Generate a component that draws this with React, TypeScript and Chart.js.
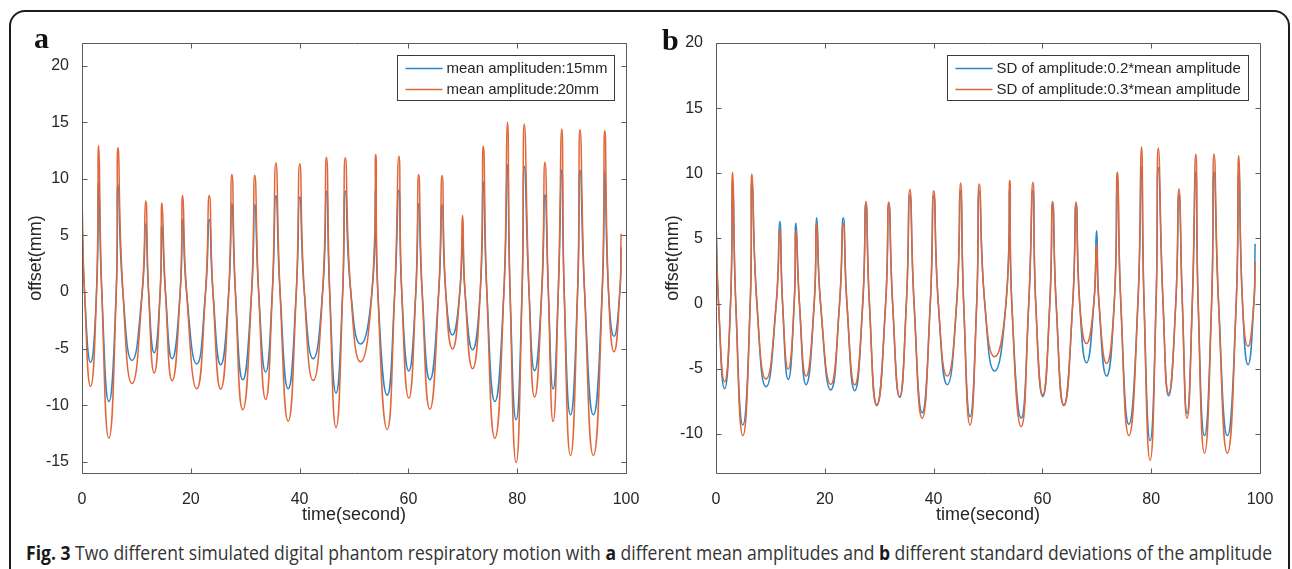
import React, { useEffect, useLayoutEffect, useRef } from "react";
import { Chart, registerables } from "chart.js";

Chart.register(...registerables);

// ---------- shared time base (seconds) ----------
const startTime = 0;
const endTime = 99.1;
const crossingLevel = 0; // value at the read zero-crossing times
const fallTimes = [0.47, 3.64, 7.52, 12.24, 15.34, 19.22, 24.07, 28.2, 32.47, 36.41, 40.87, 45.53, 49.41, 54.38, 58.78, 62.53, 66.86, 70.41, 74.42, 78.69, 82.18, 85.73, 88.64, 92.39, 96.79];
const troughTimes = [1.57, 4.94, 9.2, 13.27, 16.57, 21.1, 25.5, 29.56, 33.76, 37.9, 42.5, 46.7, 51.2, 56.1, 60.07, 63.95, 68.1, 71.8, 75.9, 79.8, 83.2, 86.6, 89.8, 94.0, 97.8];
const riseTimes = [2.67, 6.29, 11.07, 14.37, 18.05, 22.71, 26.97, 31.18, 34.99, 39.39, 44.23, 47.92, 53.3, 57.49, 61.36, 65.57, 69.45, 73.2, 77.55, 80.89, 84.51, 87.55, 91.1, 95.62, 98.86];
const peakTimes = [3.06, 6.61, 11.72, 14.69, 18.5, 23.4, 27.55, 31.76, 35.64, 40.03, 44.94, 48.4, 54.0, 58.26, 61.88, 66.2, 69.96, 73.77, 78.2, 81.3, 85.1, 88.2, 91.55, 96.1];

// ---------- panel a ----------
const aLabels = ["mean amplituden:15mm", "mean amplitude:20mm"];
const aBlueEnds = [6.3, 3.95];
const aBluePeaks = [9.7, 9.5, 6.0, 5.9, 6.4, 6.4, 7.8, 7.7, 8.5, 8.4, 8.9, 8.9, 9.1, 9.0, 7.8, 7.7, 5.1, 9.7, 11.25, 11.1, 8.6, 10.8, 10.75, 10.7];
const aBlueTroughs = [-6.22, -9.68, -6.05, -5.37, -5.9, -6.37, -6.43, -7.76, -7.08, -8.55, -5.9, -8.94, -4.6, -9.12, -6.99, -7.76, -3.8, -5.1, -9.68, -11.3, -6.96, -8.58, -10.86, -10.86, -3.92];
const aOrangeEnds = [8.4, 5.15];
const aOrangePeaks = [12.94, 12.74, 8.03, 7.85, 8.53, 8.53, 10.38, 10.32, 11.41, 11.32, 11.91, 11.85, 12.15, 12.0, 10.38, 10.29, 6.76, 12.88, 15.0, 14.85, 11.47, 14.41, 14.35, 14.26];
const aOrangeTroughs = [-8.35, -12.92, -8.08, -7.17, -7.85, -8.55, -8.58, -10.41, -9.5, -11.42, -7.82, -11.98, -6.17, -12.15, -9.38, -10.35, -5.04, -6.78, -12.92, -15.07, -9.29, -11.45, -14.45, -14.45, -5.28];
const aYRange = [-16, 22];
const aYTicks = [-15, -10, -5, 0, 5, 10, 15, 20];

// ---------- panel b ----------
const bLabels = ["SD of amplitude:0.2*mean amplitude", "SD of amplitude:0.3*mean amplitude"];
const bBlueEnds = [6.4, 4.6];
const bBluePeaks = [9.4, 9.3, 6.3, 6.17, 6.58, 6.58, 7.7, 7.65, 8.3, 8.25, 8.65, 8.6, 8.8, 8.7, 7.7, 7.65, 5.6, 9.4, 10.5, 10.45, 8.35, 10.1, 10.1, 10.0];
const bBlueTroughs = [-6.53, -9.31, -6.38, -5.82, -6.22, -6.63, -6.68, -7.78, -7.19, -8.37, -6.22, -8.67, -5.18, -8.78, -7.14, -7.78, -4.54, -5.56, -9.26, -10.51, -7.07, -8.42, -10.13, -10.13, -4.69];
const bOrangeEnds = [5.9, 3.2];
const bOrangePeaks = [10.08, 9.95, 5.74, 5.61, 6.07, 6.12, 7.86, 7.8, 8.75, 8.67, 9.26, 9.18, 9.44, 9.31, 7.83, 7.8, 4.59, 10.08, 12.04, 11.94, 8.8, 11.48, 11.48, 11.35];
const bOrangeTroughs = [-6.0, -10.13, -5.79, -5.03, -5.56, -6.2, -6.25, -7.83, -7.14, -8.8, -5.56, -9.31, -4.08, -9.44, -7.02, -7.83, -3.06, -4.59, -10.13, -12.04, -6.89, -8.8, -11.48, -11.48, -3.27];
const bYRange = [-13, 20];
const bYTicks = [-10, -5, 0, 5, 10, 15, 20];

const xRange = [0, 100];
const xTicks = [0, 20, 40, 60, 80, 100];

const BLUE = "#2a86c9";
const ORANGE = "#e0673a";
const AXIS = "#5c5c5c";
const TEXT = "#262626";
const FONT = '"Liberation Sans", Arial, Helvetica, sans-serif';
const CURVE_TENSION = 0.55;

function buildSeries(ends: number[], troughs: number[], peaks: number[]) {
  const pts: { x: number; y: number }[] = [{ x: startTime, y: ends[0] }];
  for (let k = 0; k < troughTimes.length; k++) {
    pts.push({ x: fallTimes[k], y: crossingLevel });
    pts.push({ x: troughTimes[k], y: troughs[k] });
    pts.push({ x: riseTimes[k], y: crossingLevel });
    if (k < peakTimes.length) pts.push({ x: peakTimes[k], y: peaks[k] });
  }
  pts.push({ x: endTime, y: ends[1] });
  return pts;
}

const framePlugin = {
  id: "matlabFrame",
  afterDraw(chart: any) {
    const { ctx, chartArea: ca, scales } = chart;
    const TL = 5;
    ctx.save();
    ctx.strokeStyle = AXIS;
    ctx.lineWidth = 1;
    const L = Math.round(ca.left) + 0.5;
    const R = Math.round(ca.right) + 0.5;
    const T = Math.round(ca.top) + 0.5;
    const B = Math.round(ca.bottom) + 0.5;
    ctx.beginPath();
    ctx.rect(L, T, R - L, B - T);
    scales.x.ticks.forEach((t: any) => {
      const px = Math.round(scales.x.getPixelForValue(t.value)) + 0.5;
      ctx.moveTo(px, B);
      ctx.lineTo(px, B - TL);
      ctx.moveTo(px, T);
      ctx.lineTo(px, T + TL);
    });
    scales.y.ticks.forEach((t: any) => {
      const py = Math.round(scales.y.getPixelForValue(t.value)) + 0.5;
      ctx.moveTo(L, py);
      ctx.lineTo(L + TL, py);
      ctx.moveTo(R, py);
      ctx.lineTo(R - TL, py);
    });
    ctx.stroke();

    // legend box (MATLAB style, north-east)
    const items = chart.data.datasets;
    ctx.font = `15px ${FONT}`;
    const tw = Math.max(...items.map((d: any) => ctx.measureText(d.label).width));
    const right = Math.round(ca.right - 12) + 0.5;
    const left = Math.round(right - (8 + 37 + 4 + tw + 8)) + 0.5;
    const top = Math.round(ca.top + 12) + 0.5;
    const bottom = Math.round(ca.top + 57) + 0.5;
    ctx.fillStyle = "#ffffff";
    ctx.fillRect(left, top, right - left, bottom - top);
    ctx.strokeStyle = "#3a3a3a";
    ctx.lineWidth = 1;
    ctx.strokeRect(left, top, right - left, bottom - top);
    items.forEach((d: any, i: number) => {
      const y = ca.top + 25.5 + i * 21;
      ctx.strokeStyle = d.borderColor;
      ctx.lineWidth = 1.4;
      ctx.beginPath();
      ctx.moveTo(left + 8, y);
      ctx.lineTo(left + 45, y);
      ctx.stroke();
      ctx.fillStyle = TEXT;
      ctx.textBaseline = "middle";
      ctx.textAlign = "left";
      ctx.fillText(d.label, left + 49, y);
    });
    ctx.restore();
  },
};

type PanelProps = {
  left: number;
  labels: string[];
  blue: { x: number; y: number }[];
  orange: { x: number; y: number }[];
  yRange: number[];
  yTicks: number[];
  yTitlePad: number;
};

const CW = 628;
const CH = 506;

function Panel(p: PanelProps) {
  const ref = useRef<HTMLCanvasElement>(null);
  useEffect(() => {
    if (!ref.current) return;
    const line = { borderWidth: 1.5, pointRadius: 0, tension: CURVE_TENSION, cubicInterpolationMode: "default", fill: false };
    const chart = new Chart(ref.current, {
      type: "line",
      data: {
        datasets: [
          { label: p.labels[0], data: p.blue, borderColor: BLUE, backgroundColor: BLUE, order: 2, ...line },
          { label: p.labels[1], data: p.orange, borderColor: ORANGE, backgroundColor: ORANGE, order: 1, ...line },
        ],
      },
      options: {
        animation: false,
        responsive: false,
        maintainAspectRatio: false,
        events: [],
        layout: { padding: { top: 23, right: 14, bottom: 0, left: 0 } },
        plugins: { legend: { display: false }, tooltip: { enabled: false } },
        scales: {
          x: {
            type: "linear",
            min: xRange[0],
            max: xRange[1],
            grid: { display: false },
            border: { display: false },
            afterBuildTicks: (s: any) => { s.ticks = xTicks.map((v) => ({ value: v })); },
            afterFit: (s: any) => { s.height = 53; s.paddingLeft = 0; s.paddingRight = 0; },
            ticks: { color: TEXT, font: { family: FONT, size: 16 }, padding: 9, maxRotation: 0, autoSkip: false },
            title: { display: true, text: "time(second)", color: TEXT, font: { family: FONT, size: 18 }, padding: { top: 0, bottom: 0 } },
          },
          y: {
            type: "linear",
            min: p.yRange[0],
            max: p.yRange[1],
            grid: { display: false },
            border: { display: false },
            afterBuildTicks: (s: any) => { s.ticks = p.yTicks.map((v) => ({ value: v })); },
            afterFit: (s: any) => { s.width = 70; s.paddingTop = 0; s.paddingBottom = 0; },
            ticks: { color: TEXT, font: { family: FONT, size: 16 }, padding: 5, autoSkip: false },
            title: { display: true, text: "offset(mm)", color: TEXT, font: { family: FONT, size: 18 }, padding: { top: p.yTitlePad, bottom: 0 } },
          },
        },
      } as any,
      plugins: [framePlugin],
    });
    return () => chart.destroy();
  }, []);
  return (
    <div style={{ position: "absolute", left: p.left, top: 20, width: CW, height: CH }}>
      <canvas ref={ref} width={CW} height={CH} style={{ width: CW, height: CH, display: "block" }} />
    </div>
  );
}

const CAPTION_LEFT = 26;
const CAPTION_WIDTH = 1246;

export default function App() {
  const capRef = useRef<HTMLDivElement>(null);
  useLayoutEffect(() => {
    const el = capRef.current;
    if (!el) return;
    const fit = () => {
      el.style.transform = "none";
      const w = el.getBoundingClientRect().width;
      if (w > 0) el.style.transform = `scaleX(${CAPTION_WIDTH / w})`;
    };
    fit();
    if ((document as any).fonts && (document as any).fonts.ready) (document as any).fonts.ready.then(fit);
  }, []);

  const aBlue = buildSeries(aBlueEnds, aBlueTroughs, aBluePeaks);
  const aOrange = buildSeries(aOrangeEnds, aOrangeTroughs, aOrangePeaks);
  const bBlue = buildSeries(bBlueEnds, bBlueTroughs, bBluePeaks);
  const bOrange = buildSeries(bOrangeEnds, bOrangeTroughs, bOrangePeaks);

  const labelStyle: React.CSSProperties = {
    position: "absolute",
    fontFamily: '"Liberation Serif", "Times New Roman", serif',
    fontWeight: "bold",
    fontSize: 30,
    lineHeight: 1,
    color: "#111",
  };

  return (
    <div style={{ position: "fixed", left: 0, top: 0, width: 1292, height: 569, overflow: "hidden", background: "#fff" }}>
      <div style={{ position: "absolute", left: 9, top: 10, width: 1281, height: 640, boxSizing: "border-box", border: "2px solid #1c1c1c", borderRadius: 16 }} />
      <Panel left={12} labels={aLabels} blue={aBlue} orange={aOrange} yRange={aYRange} yTicks={aYTicks} yTitlePad={13} />
      <Panel left={646} labels={bLabels} blue={bBlue} orange={bOrange} yRange={bYRange} yTicks={bYTicks} yTitlePad={16} />
      <div style={{ ...labelStyle, left: 34, top: 23 }}>a</div>
      <div style={{ ...labelStyle, left: 662, top: 25 }}>b</div>
      <div
        ref={capRef}
        style={{
          position: "absolute",
          left: CAPTION_LEFT,
          top: 543,
          whiteSpace: "nowrap",
          fontFamily: '"Open Sans", "Noto Sans", sans-serif',
          fontSize: 19.5,
          lineHeight: 1,
          color: "#333",
          transformOrigin: "left top",
          display: "inline-block",
        }}
      >
        <b style={{ color: "#1a1a1a" }}>Fig. 3</b> Two different simulated digital phantom respiratory motion with <b style={{ color: "#1a1a1a" }}>a</b> different mean amplitudes and <b style={{ color: "#1a1a1a" }}>b</b> different standard deviations of the amplitude
      </div>
    </div>
  );
}
